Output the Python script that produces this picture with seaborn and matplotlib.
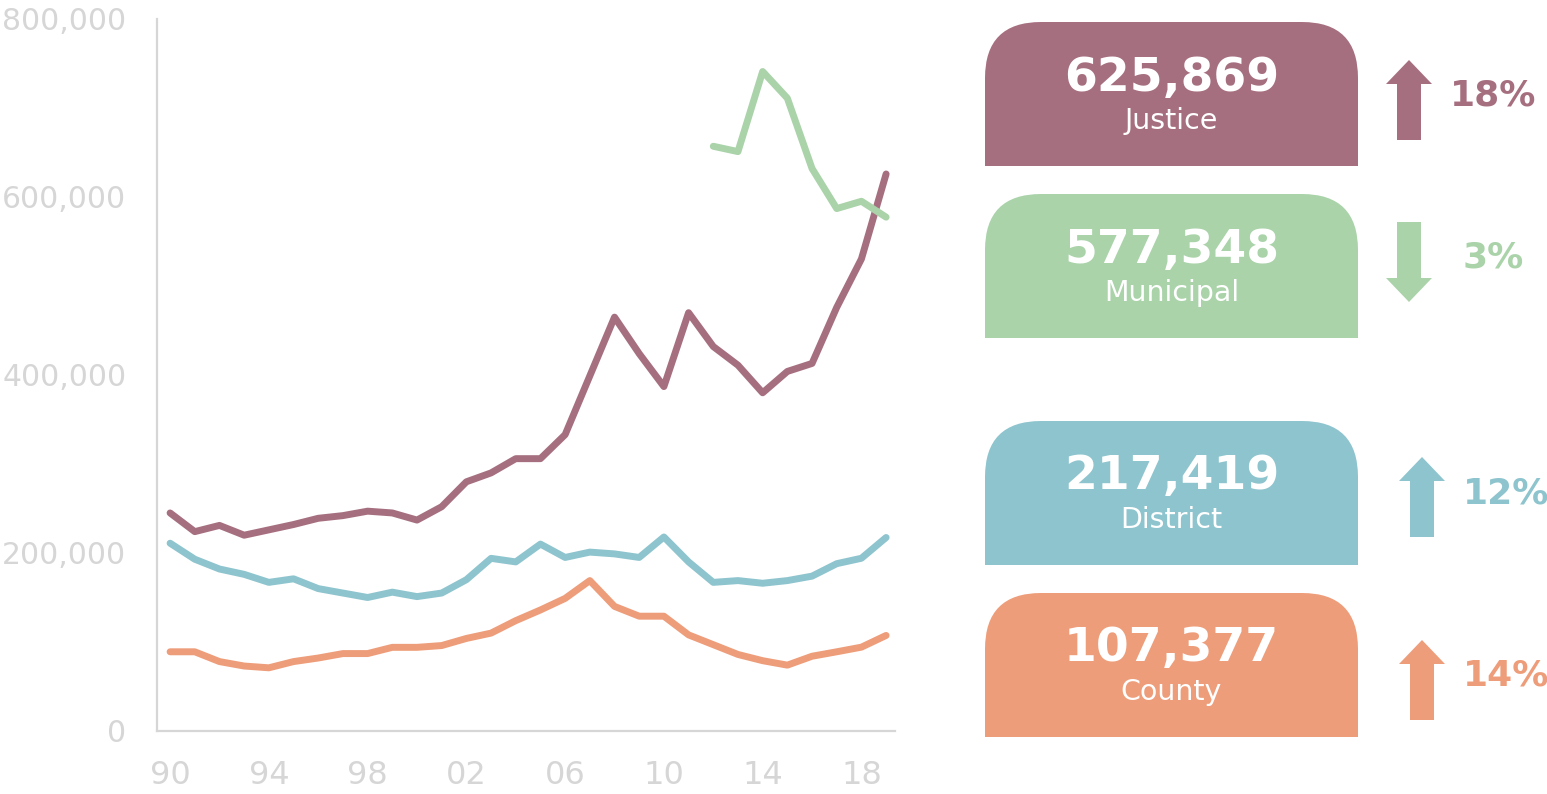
import numpy as np
import pandas as pd
import matplotlib
matplotlib.use("Agg")
import matplotlib.pyplot as plt
import seaborn as sns
from matplotlib.patches import FancyBboxPatch, Rectangle, Polygon
from matplotlib.ticker import FuncFormatter

# data
years = list(range(1990, 2020))
justice = [245000, 224000, 231000, 220000, 226000, 232000, 239000, 242000, 247000, 245000,
           237000, 252000, 280000, 290000, 306000, 306000, 333000, 399000, 465000, 424000,
           387000, 470000, 432000, 411000, 380000, 404000, 413000, 476000, 530400, 625869]
district = [211000, 193000, 182000, 176000, 167000, 171000, 160000, 155000, 150000, 156000,
            151000, 155000, 170000, 194000, 190000, 210000, 195000, 201000, 199000, 195000,
            218000, 190000, 167000, 169000, 166000, 169000, 174000, 188000, 194100, 217419]
county = [89000, 89000, 78000, 73000, 71000, 78000, 82000, 87000, 87000, 94000,
          94000, 96000, 104000, 110000, 124000, 136000, 149000, 169000, 140000, 129000,
          129000, 108000, 97000, 86000, 79000, 74000, 84000, 89000, 94200, 107377]
muni_years = list(range(2012, 2020))
municipal = [657000, 651000, 741000, 711000, 632000, 587000, 595200, 577348]

series_names = ["Justice", "Municipal", "District", "County"]
colors = ["#a66f80", "#aad3aa", "#8ec4ce", "#ee9d7a"]
xtick_years = [1990, 1994, 1998, 2002, 2006, 2010, 2014, 2018]
xtick_labels = ["90", "94", "98", "02", "06", "10", "14", "18"]

# long format table for seaborn
frames = [
    pd.DataFrame({"year": years, "value": justice, "series": "Justice"}),
    pd.DataFrame({"year": muni_years, "value": municipal, "series": "Municipal"}),
    pd.DataFrame({"year": years, "value": district, "series": "District"}),
    pd.DataFrame({"year": years, "value": county, "series": "County"}),
]
df = pd.concat(frames, ignore_index=True)

sns.set_style("white")
plt.rcParams["font.family"] = ["DejaVu Sans"]

W, H = 1547, 794
fig = plt.figure(figsize=(W / 100, H / 100), dpi=100)

# overlay axes in pixel units for the summary boxes
ov = fig.add_axes([0, 0, 1, 1], zorder=0)
ov.set_xlim(0, W)
ov.set_ylim(H, 0)
ov.axis("off")

ax = fig.add_axes([157 / W, 1 - 731 / H, (895 - 157) / W, (731 - 19) / H], zorder=1)
ax.patch.set_alpha(0)

sns.lineplot(data=df, x="year", y="value", hue="series", hue_order=series_names,
             palette=dict(zip(series_names, colors)), linewidth=5, legend=False,
             ax=ax, solid_capstyle="round", solid_joinstyle="round")

grey = "#d6d6d6"
ax.set_xlim(1989.47, 2019.36)
ax.set_ylim(0, 800000)
ax.set_yticks([0, 200000, 400000, 600000, 800000])
ax.yaxis.set_major_formatter(FuncFormatter(lambda v, p: f"{int(v):,}"))
ax.set_xticks(xtick_years)
ax.set_xticklabels(xtick_labels)
ax.set_xlabel("")
ax.set_ylabel("")
for s in ["top", "right"]:
    ax.spines[s].set_visible(False)
for s in ["left", "bottom"]:
    ax.spines[s].set_color(grey)
    ax.spines[s].set_linewidth(1.6)
ax.tick_params(axis="y", length=8, width=1.6, color=grey, labelcolor=grey,
               labelsize=21.5, pad=14)
ax.tick_params(axis="x", length=0, labelcolor=grey, labelsize=23, pad=21)

# summary boxes on the right
last_vals = [justice[-1], municipal[-1], district[-1], county[-1]]
prev_vals = [justice[-2], municipal[-2], district[-2], county[-2]]
box_x0, box_x1, box_h = 985, 1358, 144
box_tops = [22, 194, 421, 593]
arrow_x = [1409, 1409, 1422, 1422]
arrow_cy = [100, 262, 497, 680]

for i, name in enumerate(series_names):
    c = colors[i]
    top = box_tops[i]
    ov.add_patch(FancyBboxPatch((box_x0, top), box_x1 - box_x0, box_h,
                                boxstyle="round,pad=0,rounding_size=56",
                                fc=c, ec="none"))
    ov.add_patch(Rectangle((box_x0, top + box_h / 2), box_x1 - box_x0, box_h / 2,
                           fc=c, ec="none"))
    cx = (box_x0 + box_x1) / 2
    ov.text(cx, top + 56, f"{last_vals[i]:,}", color="white", fontsize=34,
            fontweight="bold", ha="center", va="center")
    ov.text(cx, top + 99, name, color="white", fontsize=20.5, ha="center", va="center")

    change = (last_vals[i] - prev_vals[i]) / prev_vals[i]
    up = change >= 0
    ax_x, cy = arrow_x[i], arrow_cy[i]
    half, sw, hw, hl = 40, 12, 23, 24
    if up:
        tip, base = cy - half, cy + half
        pts = [(ax_x, tip), (ax_x + hw, tip + hl), (ax_x + sw, tip + hl), (ax_x + sw, base),
               (ax_x - sw, base), (ax_x - sw, tip + hl), (ax_x - hw, tip + hl)]
    else:
        tip, base = cy + half, cy - half
        pts = [(ax_x, tip), (ax_x + hw, tip - hl), (ax_x + sw, tip - hl), (ax_x + sw, base),
               (ax_x - sw, base), (ax_x - sw, tip - hl), (ax_x - hw, tip - hl)]
    ov.add_patch(Polygon(pts, closed=True, fc=c, ec="none"))
    ov.text(ax_x + 84, cy - 4, f"{abs(change) * 100:.0f}%", color=c, fontsize=26,
            fontweight="bold", ha="center", va="center")

fig.savefig("out.png", dpi=100)
